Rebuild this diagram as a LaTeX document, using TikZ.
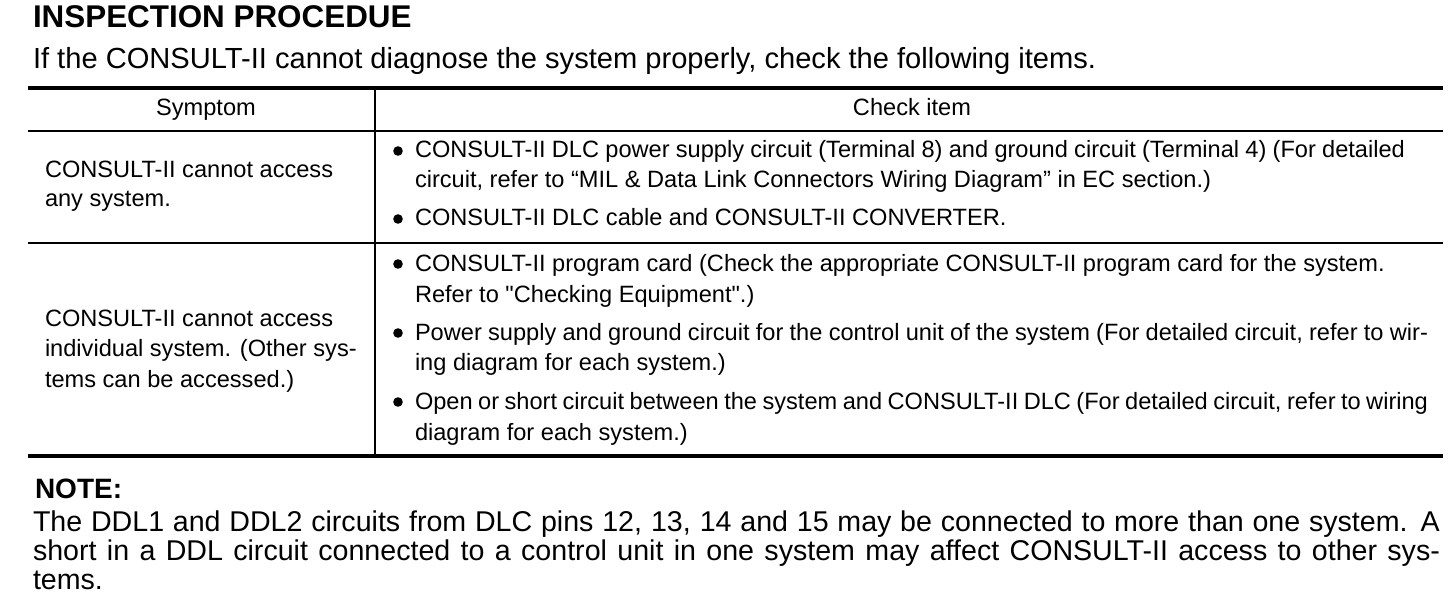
\documentclass[tikz,border=0pt]{standalone}
\usepackage{fontspec}
\setmainfont{Liberation Sans}[Ligatures=TeXOff]
\begin{document}
\begin{tikzpicture}[x=0.5pt,y=-0.5pt,
  txt/.style={anchor=base west, inner sep=0pt, outer sep=0pt},
  cell/.style={txt, font=\fontsize{11.8}{14}\selectfont},
  head/.style={anchor=base, inner sep=0pt, font=\fontsize{11.8}{14}\selectfont},
  bul/.style={circle, fill=black, inner sep=0pt, minimum size=4.8pt},
  thickrule/.style={line width=2pt},
  thinrule/.style={line width=1pt}]
\useasboundingbox (0,0) rectangle (1456,604);
% title
\node[txt, font=\fontsize{15.7}{18}\selectfont\bfseries] (title) at (33,28) {INSPECTION PROCEDUE};
\node[txt, font=\fontsize{14.55}{17}\selectfont] (sub) at (33,69) {If the CONSULT-II cannot diagnose the system properly, check the following items.};
% table rules
\coordinate (tl) at (28,88); \coordinate (tr) at (1443,88);
\coordinate (hl) at (28,131); \coordinate (hr) at (1443,131);
\coordinate (rl) at (28,243); \coordinate (rr) at (1443,243);
\coordinate (bl) at (28,456); \coordinate (br) at (1443,456);
\coordinate (ct) at (375,88); \coordinate (cb) at (375,456);
\draw[thickrule] (tl) -- (tr);
\draw[thinrule] (hl) -- (hr);
\draw[thinrule] (rl) -- (rr);
\draw[thickrule] (bl) -- (br);
\draw[thinrule] (ct) -- (cb);
% header
\node[head] (h1) at (206,116) {Symptom};
\node[head] (h2) at (912,116) {Check item};
% row 1
\node[cell] (s1a) at (45,178) {CONSULT-II cannot access};
\node[cell] (s1b) at (45,207) {any system.};
\node[bul] (b1) at (398,151) {};
\node[cell] (c1a) at (415,158) {\makebox[495pt][s]{CONSULT-II DLC power supply circuit (Terminal 8) and ground circuit (Terminal 4) (For detailed}};
\node[cell] (c1b) at (415,188) {circuit, refer to “MIL \& Data Link Connectors Wiring Diagram” in EC section.)};
\node[bul] (b2) at (398,219) {};
\node[cell] (c2a) at (415,226) {CONSULT-II DLC cable and CONSULT-II CONVERTER.};
% row 2
\node[cell] (s2a) at (45,326) {CONSULT-II cannot access};
\node[cell] (s2b) at (45,356) {individual system. (Other sys-};
\node[cell] (s2c) at (45,387) {tems can be accessed.)};
\node[bul] (b3) at (398,264) {};
\node[cell] (c3a) at (415,271) {CONSULT-II program card (Check the appropriate CONSULT-II program card for the system.};
\node[cell] (c3b) at (415,302) {Refer to "Checking Equipment".)};
\node[bul] (b4) at (398,333) {};
\node[cell] (c4a) at (415,340) {\makebox[506.5pt][s]{Power supply and ground circuit for the control unit of the system (For detailed circuit, refer to wir-}};
\node[cell] (c4b) at (415,370) {ing diagram for each system.)};
\node[bul] (b5) at (398,402) {};
\node[cell] (c5a) at (415,409) {\makebox[506.5pt][s]{Open or short circuit between the system and CONSULT-II DLC (For detailed circuit, refer to wiring}};
\node[cell] (c5b) at (415,440) {diagram for each system.)};
% note
\node[txt, font=\fontsize{14}{17}\selectfont\bfseries] (note) at (35,498) {NOTE:};
\node[txt, font=\fontsize{14.3}{17}\selectfont] (n1) at (33,531) {\makebox[703.5pt][s]{The DDL1 and DDL2 circuits from DLC pins 12, 13, 14 and 15 may be connected to more than one system. A}};
\node[txt, font=\fontsize{14.3}{17}\selectfont] (n2) at (33,560) {\makebox[703.5pt][s]{short in a DDL circuit connected to a control unit in one system may affect CONSULT-II access to other sys-}};
\node[txt, font=\fontsize{14.3}{17}\selectfont] (n3) at (33,589) {tems.};
\end{tikzpicture}
\end{document}
